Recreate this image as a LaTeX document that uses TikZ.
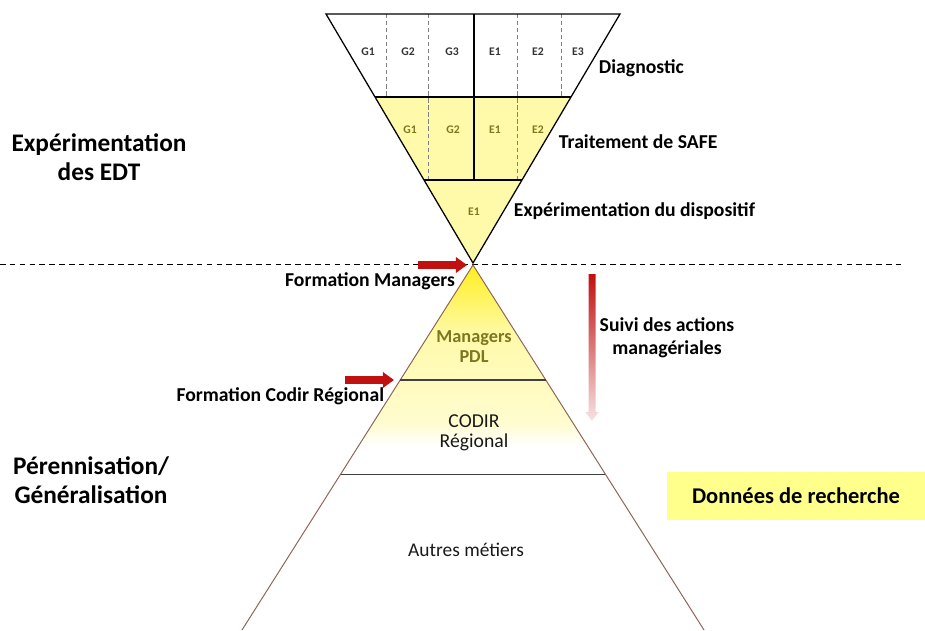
\documentclass[tikz,border=0pt]{standalone}
\usepackage{fontspec}
\setmainfont{Carlito}
\usetikzlibrary{arrows.meta,calc}
\definecolor{paleyellow}{RGB}{255,250,170}
\definecolor{brightyellow}{RGB}{255,238,30}
\definecolor{boxyellow}{RGB}{255,255,140}
\definecolor{arrowred}{RGB}{192,16,16}
\definecolor{cellolive}{RGB}{125,120,30}
\definecolor{sidebrown}{RGB}{140,100,90}

\begin{document}
\begin{tikzpicture}[x=0.025cm,y=-0.025cm,
    lab/.style={font=\bfseries\fontsize{14}{16.4}\selectfont},
    cell/.style={font=\bfseries\fontsize{8.3}{9}\selectfont,text=black!80},
    head/.style={font=\bfseries\fontsize{18}{21}\selectfont,align=center},
    redarrow/.style={arrowred,line width=5pt,-{Triangle[length=8pt,width=11pt]}},
    divider/.style={gray,densely dashed,line width=0.5pt}]
\useasboundingbox (0,0) rectangle (925,630);
% inverted triangle
\coordinate (tl) at (326,14);
\coordinate (tr) at (620,14);
\coordinate (apex) at (473,263);
\fill[paleyellow] ($(tl)!1/3!(apex)$) -- ($(tr)!1/3!(apex)$) -- (apex) -- cycle;
\draw[divider] (386,14) -- (386,97);
\draw[divider] (561,14) -- (561,97);
\draw[divider] (428,14) -- (428,181);
\draw[divider] (517,14) -- (517,181);
\draw[line width=0.9pt] (474,14) -- (474,181);
\draw[line width=0.9pt] ($(tl)!1/3!(apex)$) -- ($(tr)!1/3!(apex)$);
\draw[line width=0.9pt] ($(tl)!2/3!(apex)$) -- ($(tr)!2/3!(apex)$);
\draw[line width=0.9pt] (tl) -- (tr) -- (apex) -- cycle;
\foreach \t/\x in {G1/368,G2/408,G3/452,E1/495,E2/538,E3/578}
  \node[cell] (diag-\t) at (\x,52) {\t};
\foreach \t/\x in {G1/410,G2/453,E1/495,E2/538}
  \node[cell,text=cellolive] (trt-\t) at (\x,130) {\t};
\node[cell,text=cellolive] (exp-E1) at (474,212) {E1};
\node[lab,anchor=west] (diagnostic) at (594,68) {Diagnostic};
\node[lab,anchor=west] (traitement) at (554,142) {Traitement de SAFE};
\node[lab,anchor=west] (experimentation) at (509,211) {Expérimentation du dispositif};
\node[head] (edt) at (99,157) {Expérimentation\\des EDT};
\node[head] (perenne) at (91,480) {Pérennisation/\\Généralisation};

\draw[dash pattern=on 4pt off 3pt,line width=0.6pt] (0,264) -- (905,264);

% pyramid
\coordinate (top) at (473,265);
\coordinate (bl) at (242,630);
\coordinate (br) at (704,630);
\begin{scope}
  \clip (top) -- ($(top)!0.573!(bl)$) -- ($(top)!0.573!(br)$) -- cycle;
  \shade[top color=brightyellow,bottom color=paleyellow] (240,265) rectangle (710,335);
  \shade[top color=paleyellow,bottom color=paleyellow!55] (240,334) rectangle (710,425);
  \shade[top color=paleyellow!55,bottom color=white] (240,424) rectangle (710,446);
\end{scope}
\draw[sidebrown,line width=0.7pt] (bl) -- (top) -- (br);
\draw[black!75,line width=0.9pt] ($(top)!0.315!(bl)$) -- ($(top)!0.315!(br)$);
\draw[black!75,line width=0.9pt] ($(top)!0.573!(bl)$) -- ($(top)!0.573!(br)$);
\node[font=\bfseries\fontsize{13}{14.2}\selectfont,text=cellolive,align=center] (managers) at (474,347) {Managers\\PDL};
\node[font=\fontsize{14}{14.2}\selectfont,text=black!90,align=center] (codir) at (474,433) {CODIR\\Régional};
\node[font=\fontsize{13.8}{16}\selectfont,text=black!90] (autres) at (466,550) {Autres métiers};

% arrows
\coordinate (fm-start) at (418,265);
\coordinate (fm-end) at (467,265);
\draw[redarrow] (fm-start) -- (fm-end);
\node[lab,anchor=east] (formation-managers) at (460,281) {Formation Managers};
\coordinate (fc-start) at (345,380);
\coordinate (fc-end) at (394,380);
\draw[redarrow] (fc-start) -- (fc-end);
\node[lab,anchor=east] (formation-codir) at (389,396) {Formation Codir Régional};
\shade[top color=arrowred,bottom color=arrowred!12]
  (588.5,274) -- (595.5,274) -- (595.5,412) -- (598.5,412) -- (592,421)
  -- (585.5,412) -- (588.5,412) -- cycle;
\node[lab,align=center] (suivi) at (667,338) {Suivi des actions\\managériales};

\node[fill=boxyellow,minimum width=258*0.025cm,minimum height=48*0.025cm,
  font=\bfseries\fontsize{16}{18}\selectfont] (donnees) at (796,496) {Données de recherche};
\end{tikzpicture}
\end{document}
